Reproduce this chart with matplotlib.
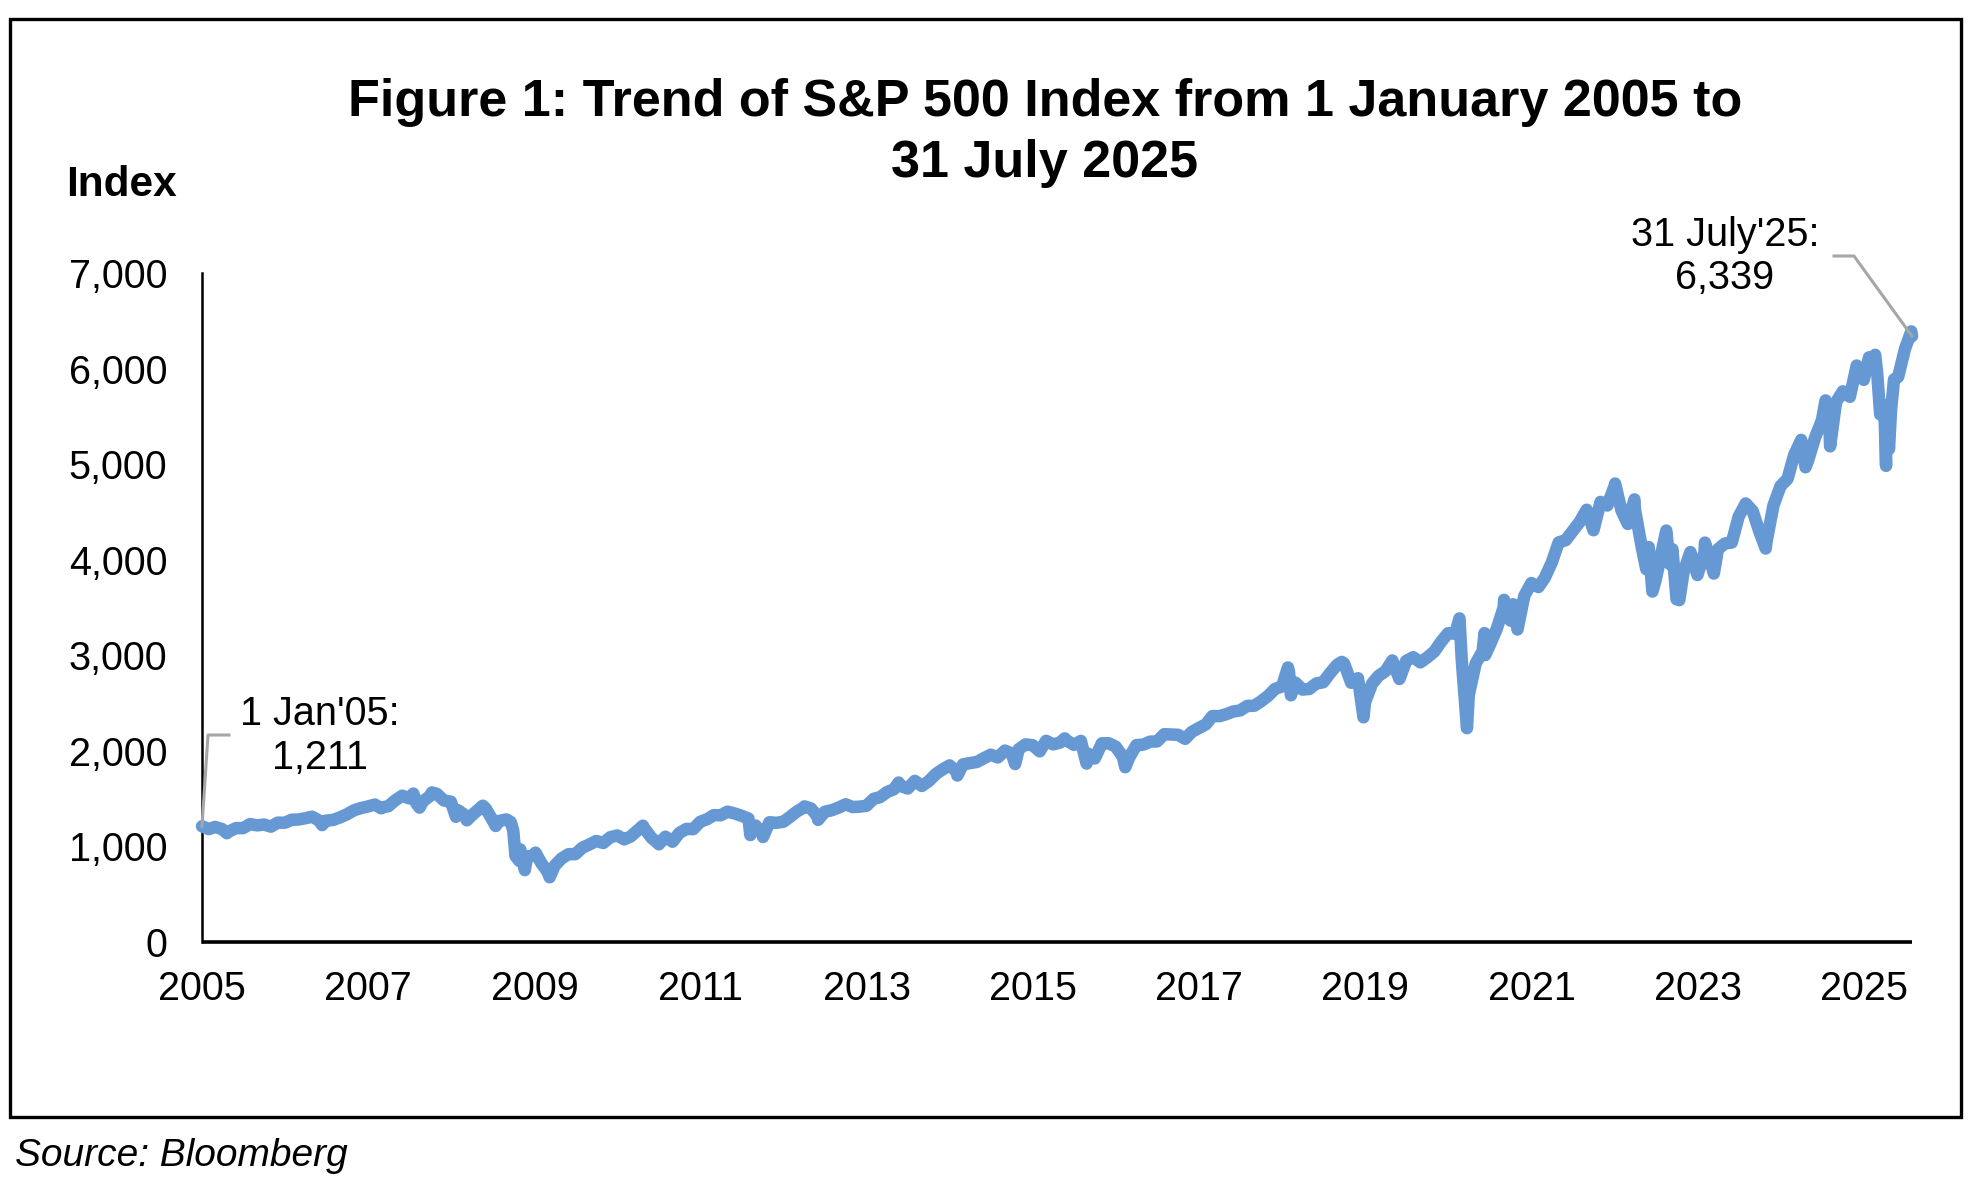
import matplotlib
matplotlib.use("Agg")
import matplotlib.pyplot as plt
import matplotlib.dates as mdates
from matplotlib.patches import Rectangle
from matplotlib.lines import Line2D
from matplotlib.ticker import FuncFormatter
import pandas as pd

plt.rcParams['font.family'] = ['Liberation Sans', 'DejaVu Sans']

# monthly closes (end of month), 2005 .. Jul 2025
monthly = {
    2005: [1181, 1204, 1181, 1157, 1192, 1191, 1234, 1220, 1229, 1207, 1249, 1248],
    2006: [1280, 1281, 1295, 1311, 1270, 1270, 1277, 1304, 1336, 1378, 1401, 1418],
    2007: [1438, 1407, 1421, 1482, 1531, 1503, 1455, 1474, 1527, 1549, 1481, 1468],
    2008: [1379, 1331, 1323, 1386, 1400, 1280, 1267, 1283, 1166, 969, 896, 903],
    2009: [826, 735, 798, 873, 919, 919, 987, 1021, 1057, 1036, 1096, 1115],
    2010: [1074, 1104, 1169, 1187, 1089, 1031, 1102, 1049, 1141, 1183, 1181, 1258],
    2011: [1286, 1327, 1326, 1364, 1345, 1321, 1292, 1219, 1131, 1253, 1247, 1258],
    2012: [1312, 1366, 1408, 1398, 1310, 1362, 1379, 1407, 1441, 1412, 1416, 1426],
    2013: [1498, 1515, 1569, 1598, 1631, 1606, 1686, 1633, 1682, 1757, 1806, 1848],
    2014: [1783, 1859, 1872, 1884, 1924, 1960, 1931, 2003, 1972, 2018, 2068, 2059],
    2015: [1995, 2105, 2068, 2086, 2107, 2063, 2104, 1972, 1920, 2079, 2080, 2044],
    2016: [1940, 1932, 2060, 2065, 2097, 2099, 2174, 2171, 2168, 2126, 2199, 2239],
    2017: [2279, 2364, 2363, 2384, 2412, 2423, 2470, 2472, 2519, 2575, 2648, 2674],
    2018: [2824, 2714, 2641, 2648, 2705, 2718, 2816, 2902, 2914, 2712, 2760, 2507],
    2019: [2704, 2784, 2834, 2946, 2752, 2942, 2980, 2926, 2977, 3038, 3141, 3231],
    2020: [3226, 2954, 2585, 2912, 3044, 3100, 3271, 3500, 3363, 3270, 3622, 3756],
    2021: [3714, 3811, 3973, 4181, 4204, 4298, 4395, 4523, 4308, 4605, 4567, 4766],
    2022: [4516, 4374, 4530, 4132, 4132, 3785, 4130, 3955, 3586, 3872, 4080, 3840],
    2023: [4077, 3970, 4109, 4169, 4180, 4450, 4589, 4508, 4288, 4194, 4568, 4770],
    2024: [4846, 5096, 5254, 5036, 5278, 5460, 5522, 5648, 5762, 5705, 6032, 5882],
    2025: [6041, 5955, 5612, 5569, 5912, 6205, 6339],
}

# intra-month highs / lows visible as spikes on the chart
extra_dates = ["2005-01-01", "2005-04-20", "2006-06-13", "2007-02-27", "2007-07-19",
               "2007-08-15", "2007-10-09", "2008-01-22", "2008-03-10", "2008-05-19",
               "2008-07-15", "2008-09-19", "2008-10-10", "2008-10-27", "2008-11-20",
               "2009-01-06", "2009-03-09", "2010-04-23", "2010-07-02", "2011-04-29",
               "2011-08-08", "2011-10-03", "2012-04-02", "2012-06-01", "2013-05-21",
               "2014-02-03", "2014-10-15", "2015-05-21", "2015-08-25", "2016-02-11",
               "2018-01-26", "2018-02-08", "2018-09-20", "2018-12-24", "2020-02-19",
               "2020-03-23", "2020-06-08", "2020-06-11", "2020-09-02", "2020-10-12",
               "2022-01-03", "2022-03-29", "2022-05-20", "2022-06-16", "2022-08-16",
               "2022-09-12", "2022-10-12", "2023-02-02", "2023-03-13", "2023-10-27",
               "2024-04-19", "2024-07-16", "2024-08-05", "2025-01-23", "2025-02-19",
               "2025-03-13", "2025-04-08", "2025-04-09", "2025-04-21", "2025-05-13",
               "2025-07-28"]
extra_values = [1211, 1138, 1223, 1399, 1553,
                1406, 1565, 1310, 1273, 1426,
                1214, 1255, 899, 848, 752,
                935, 677, 1217, 1022, 1364,
                1119, 1099, 1419, 1278, 1669,
                1742, 1862, 2131, 1867, 1829,
                2873, 2581, 2931, 2351, 3386,
                2237, 3232, 3002, 3580, 3534,
                4797, 4631, 3901, 3667, 4305,
                4110, 3577, 4179, 3855, 4117,
                4967, 5667, 5186, 6118, 6144,
                5521, 4982, 5457, 5158, 5886,
                6389]

x_start = "2005-01-01"
x_end = "2025-07-31"
tick_years = list(range(2005, 2026, 2))
y_ticks = [0, 1000, 2000, 3000, 4000, 5000, 6000, 7000]

title_lines = ["Figure 1: Trend of S&P 500 Index from 1 January 2005 to", "31 July 2025"]
start_label = ["1 Jan'05:", "1,211"]
end_label = ["31 July'25:", "6,339"]

# build the series
rows = []
for yr, vals in monthly.items():
    for m, v in enumerate(vals, start=1):
        d = pd.Timestamp(yr, m, 1) + pd.offsets.MonthEnd(0)
        rows.append((d, v))
for d, v in zip(extra_dates, extra_values):
    rows.append((pd.Timestamp(d), v))
df = pd.DataFrame(rows, columns=["date", "value"]).sort_values("date")
df = df[df["date"] <= pd.Timestamp(x_end)]

W, H = 1976, 1184
fig = plt.figure(figsize=(W / 100, H / 100), dpi=100)
ax = fig.add_axes([202 / W, 1 - 942 / H, (1912 - 202) / W, (942 - 273) / H])

blue = '#6699d4'
grey = '#a6a6a6'
ax.plot(df["date"], df["value"], color=blue, lw=9, solid_joinstyle='round',
        solid_capstyle='round', clip_on=False, zorder=3)

ax.set_xlim(pd.Timestamp(x_start), pd.Timestamp(x_end))
ax.set_ylim(0, 7000)
ax.set_xticks([pd.Timestamp(y, 1, 1) for y in tick_years])
ax.xaxis.set_major_formatter(mdates.DateFormatter('%Y'))
ax.set_yticks(y_ticks)
ax.yaxis.set_major_formatter(FuncFormatter(lambda v, p: f"{int(v):,}"))
ax.tick_params(axis='both', length=0, labelsize=28.5)
ax.tick_params(axis='y', pad=25)
ax.tick_params(axis='x', pad=20)

for s in ['top', 'right']:
    ax.spines[s].set_visible(False)
ax.spines['left'].set_linewidth(1.8)
ax.spines['bottom'].set_linewidth(2.6)
ax.spines['bottom'].set_capstyle('butt')

# leader lines, anchored on the first and last data points
fig.canvas.draw()
to_px = lambda d, v: ax.transData.transform((mdates.date2num(d), v))
p0 = to_px(df["date"].iloc[0], df["value"].iloc[0])
p1 = to_px(df["date"].iloc[-1], df["value"].iloc[-1])
fig.add_artist(Line2D([p0[0], 208, 229], [p0[1], 449, 449], color=grey, lw=2.2,
                      transform=None, zorder=5))
fig.add_artist(Line2D([1834, 1854, p1[0]], [928, 928, p1[1]], color=grey, lw=2.2,
                      transform=None, zorder=5))

fs = 28.5
fig.text(320 / W, 470 / H, start_label[0], ha='center', va='center', fontsize=fs)
fig.text(320 / W, 426 / H, start_label[1], ha='center', va='center', fontsize=fs)
fig.text(1725 / W, 949 / H, end_label[0], ha='center', va='center', fontsize=fs)
fig.text(1725 / W, 906 / H, end_label[1], ha='center', va='center', fontsize=fs)

fig.text(1045 / W, 1081.5 / H, title_lines[0], ha='center', va='center',
         fontsize=37.5, fontweight='bold')
fig.text(1045 / W, 1020.5 / H, title_lines[1], ha='center', va='center',
         fontsize=37.5, fontweight='bold')
fig.text(66 / W, 999 / H, "Index", ha='left', va='center', fontsize=30.5,
         fontweight='bold')
fig.text(15 / W, 28 / H, "Source: Bloomberg", ha='left', va='center', fontsize=28,
         style='italic')

fig.add_artist(Rectangle((10 / W, 67 / H), (1961 - 10) / W, (1165 - 67) / H,
                         transform=fig.transFigure, fill=False, lw=2.4, color='black'))

fig.savefig("out.png", dpi=100)
